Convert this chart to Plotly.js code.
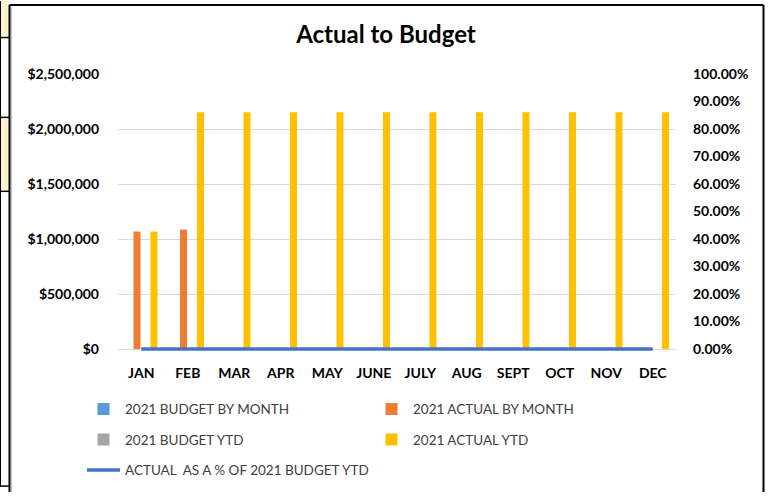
<!DOCTYPE html>
<html>
<head>
<meta charset="utf-8">
<script src="https://cdn.plot.ly/plotly-3.0.1.min.js"></script>
<style>
html,body{margin:0;padding:0;background:#fff;}
#chart{width:769px;height:498px;}
</style>
</head>
<body>
<div id="chart"></div>
<script>
var months = ["JAN","FEB","MAR","APR","MAY","JUNE","JULY","AUG","SEPT","OCT","NOV","DEC"];
var budgetByMonth = [0,0,0,0,0,0,0,0,0,0,0,0];
var actualByMonth = [1068000,1085000,0,0,0,0,0,0,0,0,0,0];
var budgetYTD = [0,0,0,0,0,0,0,0,0,0,0,0];
var actualYTD = [1068000,2153000,2153000,2153000,2153000,2153000,2153000,2153000,2153000,2153000,2153000,2153000];
var actualPctBudgetYTD = [0,0,0,0,0,0,0,0,0,0,0,0];

var L = 118, R = 676, T = 74, Z = 353, B = 356;
var W = 769, H = 498;
function px(x){return (x - L)/(R - L);}
function py(y){return (B - y)/(B - T);}
var padFrac = (B - Z)/(Z - T);

var font = "Lato, 'Open Sans', sans-serif";

var traces = [
  {type:"bar", name:"2021 BUDGET BY MONTH", x:months, y:budgetByMonth, marker:{color:"#5B9BD5"}, legend:"legend"},
  {type:"bar", name:"2021 ACTUAL BY MONTH", x:months, y:actualByMonth, marker:{color:"#ED7D31"}, legend:"legend"},
  {type:"bar", name:"2021 BUDGET YTD", x:months, y:budgetYTD, marker:{color:"#A5A5A5"}, legend:"legend2"},
  {type:"bar", name:"2021 ACTUAL YTD", x:months, y:actualYTD, marker:{color:"#FFC000"}, legend:"legend2"},
  {type:"scatter", mode:"lines", name:"ACTUAL  AS A % OF 2021 BUDGET YTD", x:months, y:actualPctBudgetYTD, yaxis:"y2", line:{color:"#4472C4", width:3.5}, legend:"legend3"}
];

function legendAt(yPix){
  return {orientation:"h", x:px(82), xanchor:"left", y:py(yPix), yanchor:"middle",
    entrywidth:240, entrywidthmode:"pixels", font:{family:font, size:13.5, color:"#404040"},
    bgcolor:"rgba(0,0,0,0)", traceorder:"normal", itemwidth:33};
}

var shapes = [
  {type:"rect", xref:"paper", yref:"paper", x0:px(0), x1:px(8), y0:py(0), y1:py(36), fillcolor:"#FFF2CC", line:{width:0}},
  {type:"rect", xref:"paper", yref:"paper", x0:px(0), x1:px(8), y0:py(119), y1:py(192), fillcolor:"#FFF2CC", line:{width:0}},
  {type:"line", xref:"paper", yref:"paper", x0:px(0), x1:px(9), y0:py(37), y1:py(37), line:{color:"#000", width:1.5}},
  {type:"line", xref:"paper", yref:"paper", x0:px(0), x1:px(9), y0:py(118), y1:py(118), line:{color:"#000", width:1.5}},
  {type:"line", xref:"paper", yref:"paper", x0:px(0), x1:px(9), y0:py(193), y1:py(193), line:{color:"#000", width:1.5}},
  {type:"line", xref:"paper", yref:"paper", x0:px(0), x1:px(9), y0:py(492), y1:py(492), line:{color:"#000", width:1.5}},
  {type:"line", xref:"paper", yref:"paper", x0:px(0.5), x1:px(0.5), y0:py(0), y1:py(493), line:{color:"#000", width:1}},
  {type:"line", xref:"paper", yref:"paper", x0:px(9.5), x1:px(9.5), y0:py(4), y1:py(498), line:{color:"#000", width:2}},
  {type:"line", xref:"paper", yref:"paper", x0:px(9.5), x1:px(763.5), y0:py(4), y1:py(4), line:{color:"#000", width:2}},
  {type:"line", xref:"paper", yref:"paper", x0:px(763.5), x1:px(763.5), y0:py(4), y1:py(498), line:{color:"#000", width:2}},
  {type:"line", xref:"paper", yref:"paper", x0:px(11.5), x1:px(11.5), y0:py(6), y1:py(498), line:{color:"#BFBFBF", width:1}}
];

var layout = {
  width:W, height:H,
  margin:{l:L, r:W-R, t:T, b:H-B, pad:0},
  paper_bgcolor:"#fff", plot_bgcolor:"#fff",
  font:{family:font, color:"#000"},
  title:{text:"<b>Actual to Budget</b>", font:{family:font, size:24, color:"#000"}, xref:"container", yref:"container", x:386/W, xanchor:"center", y:1-35/H, yanchor:"middle"},
  barmode:"group", bargap:0.27, bargroupgap:0.18,
  xaxis:{type:"category", showgrid:false, zeroline:false, showline:false, ticks:"", tickfont:{family:font, size:14, color:"#000", weight:"bold"}, ticklabelstandoff:11, fixedrange:true},
  yaxis:{range:[-2500000*padFrac,2500000], dtick:500000, tick0:0, tickprefix:"$", tickformat:",", showgrid:true, gridcolor:"#D9D9D9", gridwidth:1, zeroline:true, zerolinecolor:"#D9D9D9", zerolinewidth:1, showline:false, ticks:"", tickfont:{family:font, size:14, color:"#000", weight:"bold"}, ticklabelstandoff:18},
  yaxis2:{overlaying:"y", side:"right", range:[-padFrac,1], dtick:0.1, tick0:0, tickformat:".2%", showgrid:false, zeroline:false, showline:false, ticks:"", tickfont:{family:font, size:14, color:"#000", weight:"bold"}, ticklabelstandoff:16},
  legend:legendAt(414),
  legend2:legendAt(445),
  legend3:legendAt(476),
  shapes:shapes
};

Plotly.newPlot("chart", traces, layout, {displayModeBar:false, staticPlot:true});
</script>
</body>
</html>
